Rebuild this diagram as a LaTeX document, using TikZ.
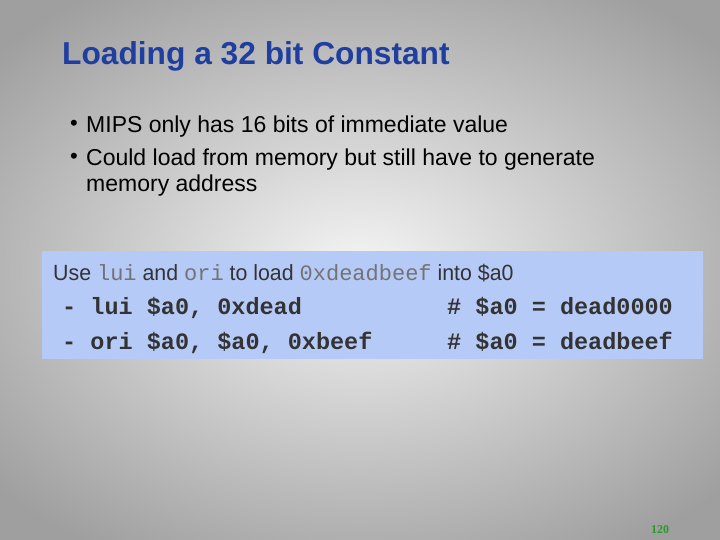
\documentclass[tikz,border=0pt]{standalone}
\usepackage{fontspec}
\setmainfont{Liberation Sans}
\newfontfamily\mono{Liberation Mono}
\definecolor{titleblue}{HTML}{1F3FA0}
\definecolor{boxblue}{HTML}{B6CAF8}
\definecolor{pgnum}{HTML}{2A9A2A}
\tikzset{txt/.style={anchor=base west,inner sep=0pt,font=\fontsize{23}{26}\selectfont},
 code/.style={anchor=base west,inner sep=0pt,font=\mono\bfseries\fontsize{23.5}{26}\selectfont,text=black!80}}
\begin{document}
\begin{tikzpicture}[x=1pt,y=-1pt]
\useasboundingbox (0,0) rectangle (720,540);
\shade[inner color=gray!8,outer color=gray!75] (-120,-60) rectangle (840,600);
\node[anchor=base west,inner sep=0pt,font=\bfseries\fontsize{31.7}{34}\selectfont,text=titleblue] (title) at (62,65) {Loading a 32 bit Constant};
\node[txt] (b1) at (86,133) {MIPS only has 16 bits of immediate value};
\node[txt] (b2) at (86,166) {Could load from memory but still have to generate};
\node[txt] (b3) at (86,192) {memory address};
\node[txt,font=\fontsize{22}{24}\selectfont] (d1) at (70,131) {•};
\node[txt,font=\fontsize{22}{24}\selectfont] (d2) at (70,164) {•};
\node[fill=boxblue,draw=none,minimum width=661,minimum height=108,anchor=north west,inner sep=0pt] (box) at (42,251) {};
\node[anchor=base west,inner sep=0pt,text=black!80,font=\fontsize{22}{24}\selectfont] (use) at (53,280)
 {\addfontfeature{FakeStretch=0.97}Use {\mono\mdseries\color{black!55}lui} and {\mono\mdseries\color{black!55}ori} to load {\mono\mdseries\color{black!55}0xdeadbeef} into \$a0};
\node[code] (l1) at (62,314) {- lui \$a0, 0xdead};
\node[code] (l2) at (62,349) {- ori \$a0, \$a0, 0xbeef};
\node[code] (c1) at (447,314) {\# \$a0 = dead0000};
\node[code] (c2) at (447,349) {\# \$a0 = deadbeef};
\node[anchor=base,inner sep=0pt,font=\fontspec{Liberation Serif}\bfseries\fontsize{12}{14}\selectfont,text=pgnum] (pg) at (660,533) {120};
\end{tikzpicture}
\end{document}
